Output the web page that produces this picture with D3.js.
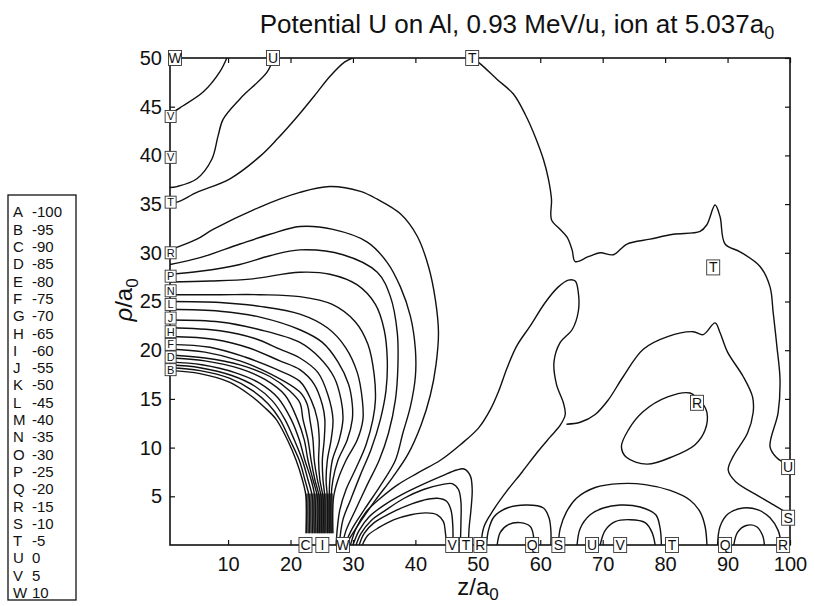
<!DOCTYPE html>
<html>
<head>
<meta charset="utf-8">
<script src="https://cdn.jsdelivr.net/npm/d3@7"></script>
<style>
  body { margin: 0; background: #fff; }
  text { font-family: "Liberation Sans", Arial, sans-serif; fill: #111; }
</style>
</head>
<body>
<div id="chart"></div>
<script>
// ---- data (z, rho) ----
const xTicks = [10, 20, 30, 40, 50, 60, 70, 80, 90, 100]
const yTicks = [5, 10, 15, 20, 25, 30, 35, 40, 45, 50]

const legendLetters = ["A","B","C","D","E","F","G","H","I","J","K","L","M","N","O","P","Q","R","S","T","U","V","W"]
const legendValues = [-100,-95,-90,-85,-80,-75,-70,-65,-60,-55,-50,-45,-40,-35,-30,-25,-20,-15,-10,-5,0,5,10]

// upper left
const C1 = [[9.8,50],[8.7,48.6],[6.0,46.5],[2.8,45.1],[1.0,44.4],[0.7,44.4]]
const C2 = [[17.2,50],[16.3,48.6],[11.9,45.8],[9.2,43.7],[8.4,42.0],[7.4,39.6],[5.0,37.6],[1.8,36.8],[0.7,36.7]]
const C3 = [[0.7,35.2],[1.8,35.2],[5.0,36.2],[10.3,37.6],[15.1,39.9],[17.9,41.7],[21.1,44.0],[24.3,46.5],[26.3,48.1],[28.7,49.6],[29.9,50]]

// fan of lines from the left edge down to the ion
const F0 = [[0.7,30.3],[5.0,31.4],[7.6,32.4],[15.1,34.7],[21.5,36.2],[26.3,36.8],[31.2,36.3],[33.9,35.5],[37.6,34.0],[40.3,31.7],[42.1,28.6],[43.2,25.2],[43.7,21.8],[43.3,18.5],[42.4,15.4],[40.9,12.3],[38.8,9.3],[36.3,6.9],[33.6,4.6],[31.2,2.4],[29.6,0.8],[28.9,0]]
const F1 = [[0.7,28.8],[5.5,29.5],[11.9,30.9],[16.7,31.9],[21.5,32.7],[26.8,32.4],[32.3,31.1],[35.5,29.0],[37.6,26.5],[39.2,23.5],[40.0,20.1],[40.0,17.3],[39.2,14.2],[38.0,11.5],[36.8,8.7],[34.5,6.2],[32.0,3.8],[29.9,1.7],[28.7,0]]
const F2 = [[0.7,27.8],[5.5,28.1],[11.9,28.8],[16.7,29.7],[21.5,30.3],[28.4,29.8],[33.9,28.0],[36.0,25.5],[37.1,21.8],[37.2,18.3],[36.8,14.9],[35.7,11.5],[34.2,8.7],[32.3,6.2],[30.4,3.6],[28.9,1.5],[28.3,0]]
const F3 = [[0.7,27.0],[7.1,27.1],[13.5,27.3],[21.5,28.0],[26.3,27.8],[30.7,26.7],[33.6,24.7],[35.0,22.1],[35.5,19.0],[35.3,15.9],[34.4,12.9],[32.9,9.8],[31.2,7.2],[29.6,4.6],[28.4,2.6],[27.8,0]]
const F4 = [[0.7,25.7],[8.7,25.7],[15.1,25.7],[21.5,25.5],[26.7,24.7],[30.4,22.9],[32.4,20.6],[33.4,17.5],[33.6,14.9],[33.2,12.9],[32.1,10.3],[30.5,7.9],[28.9,5.7],[27.9,3.6],[27.5,1.7],[27.3,0]]
const F5 = [[0.7,25.0],[8.7,24.9],[15.1,24.5],[21.5,23.7],[25.9,22.3],[28.8,20.3],[30.7,17.7],[31.5,14.9],[31.6,12.9],[30.7,10.8],[28.9,8.7],[27.6,6.7],[26.9,4.9],[26.8,1.2]]
const F6 = [[0.7,24.2],[8.7,24.0],[15.1,23.4],[21.5,22.1],[25.1,20.8],[27.6,18.8],[29.3,16.5],[29.9,14.4],[29.9,12.9],[29.1,10.8],[27.6,8.7],[26.8,6.7],[26.5,4.9],[26.5,1.2]]
const F7 = [[0.7,23.1],[8.7,22.9],[15.1,22.1],[21.5,20.8],[24.7,19.2],[27.0,17.2],[28.1,14.9],[28.4,12.9],[27.8,10.8],[26.7,8.7],[26.3,6.7],[26.2,4.9],[26.2,1.2]]
const F8 = [[0.7,22.3],[8.7,22.0],[14.3,21.2],[18.3,20.1],[21.5,19.2],[24.4,17.7],[26.0,15.4],[26.8,12.9],[26.5,10.8],[25.9,8.7],[25.7,6.7],[25.9,4.9],[25.9,1.2]]
const F9 = [[0.7,21.4],[7.9,21.1],[13.5,20.2],[18.3,18.9],[21.5,18.0],[23.8,16.5],[25.1,14.4],[25.5,12.9],[25.4,10.8],[25.1,8.7],[25.2,6.7],[25.5,4.9],[25.5,1.2]]
const F10 = [[0.7,20.6],[7.1,20.3],[12.7,19.3],[17.5,18.1],[21.5,16.8],[23.3,14.9],[24.3,12.9],[24.6,10.8],[24.5,8.7],[24.7,6.7],[25.2,4.9],[25.2,1.2]]
const F11 = [[0.7,20.1],[6.3,19.8],[11.9,18.9],[16.7,17.6],[21.5,15.7],[22.7,14.4],[23.1,12.9],[23.6,10.8],[23.8,8.7],[24.3,6.7],[24.9,4.9],[24.9,1.2]]
const F12 = [[0.7,19.5],[6.3,19.2],[11.9,18.5],[16.7,17.3],[19.9,15.8],[21.5,14.6],[22.0,12.9],[22.8,10.8],[23.3,8.7],[23.9,6.7],[24.6,4.9],[24.6,1.2]]
const F13 = [[0.7,19.2],[6.3,18.9],[11.9,18.1],[15.9,17.0],[19.1,15.4],[21.1,12.9],[22.2,10.8],[22.8,8.7],[23.6,6.7],[24.3,4.9],[24.3,1.2]]
const F14 = [[0.7,18.8],[5.8,18.5],[11.1,17.7],[15.1,16.6],[18.0,15.1],[20.1,12.9],[21.4,10.8],[22.3,8.7],[23.3,6.7],[23.9,4.9],[23.9,1.2]]
const F15 = [[0.7,18.5],[5.5,18.2],[10.6,17.4],[14.3,16.3],[17.1,14.8],[19.1,12.9],[20.6,10.8],[21.9,8.7],[22.8,6.7],[23.5,4.9],[23.5,1.2]]
const F16 = [[0.7,18.2],[5.5,17.9],[10.3,17.1],[13.8,15.9],[16.4,14.5],[18.3,12.9],[19.9,10.8],[21.4,8.7],[22.3,6.7],[23.0,4.9],[23.0,1.2]]
const F17 = [[0.7,17.9],[5.5,17.6],[10.3,16.7],[13.5,15.4],[15.9,14.1],[17.7,12.9],[19.5,10.8],[20.9,8.7],[21.9,6.7],[22.5,4.9],[22.5,1.2]]

// dense block of lines near the ion
const coreBlock = [[22.4,1.2],[26.8,1.2],[26.8,5.3],[22.4,5.3]]

// tongue and domes along the axis
const TG = [[29.6,0],[30.5,1.7],[32.1,3.4],[34.4,4.8],[37.2,6.2],[40.4,7.4],[44.0,8.7],[47.2,10.3],[50.1,12.0],[52.0,13.9],[53.4,15.9],[54.7,18.2],[56.2,20.4],[58.4,22.5],[60.8,24.9],[62.9,26.5],[64.5,27.2],[65.6,27.1],[66.1,25.9],[66.1,24.0],[65.1,22.1],[63.2,20.8],[62.2,18.8],[62.6,16.5],[63.7,14.6],[64.0,13.4],[63.2,12.3],[61.6,11.1],[59.5,9.5],[57.1,7.5],[54.6,5.5],[52.5,3.6],[51.0,1.9],[50.5,0]]
const Dm1 = [[30.0,0],[31.0,1.5],[32.6,2.9],[35.0,4.1],[37.9,5.2],[41.1,6.2],[44.3,7.1],[46.6,7.7],[47.8,7.8],[48.8,7.1],[49.1,5.7],[48.9,3.6],[48.6,1.7],[48.5,0]]
const Dm2 = [[30.5,0],[31.3,1.2],[32.9,2.5],[35.3,3.6],[38.2,4.8],[41.3,5.7],[44.2,6.2],[45.9,6.3],[46.9,5.7],[47.3,4.4],[47.3,2.4],[47.2,0]]
const Dm3 = [[31.0,0],[31.8,1.2],[33.4,2.3],[35.8,3.2],[38.5,4.0],[41.3,4.6],[43.5,4.8],[45.0,4.5],[45.7,3.6],[46.0,1.9],[46.0,0]]
const Dm4 = [[31.5,0],[32.4,1.0],[34.2,1.8],[36.6,2.6],[39.3,3.1],[41.7,3.3],[43.5,3.1],[44.5,2.4],[44.8,1.3],[45.0,0]]
const DQ = [[53.1,0],[53.6,1.3],[54.9,2.1],[56.8,2.3],[58.4,1.9],[58.9,1.0],[59.0,0]]
const DB = [[51.4,0],[51.7,1.5],[52.6,2.9],[54.7,3.8],[57.9,4.1],[60.5,3.8],[61.4,2.8],[61.7,1.5],[61.7,0]]
const DE = [[62.9,0],[63.2,1.7],[64.2,3.4],[65.8,4.8],[68.8,5.9],[72.8,6.3],[76.8,6.2],[80.8,5.6],[84.0,4.6],[85.6,3.4],[86.4,1.9],[86.7,0]]
const DC = [[65.9,0],[66.4,1.7],[68.0,3.1],[70.1,3.8],[72.8,4.1],[76.0,3.9],[78.5,3.1],[79.2,1.7],[79.4,0]]
const DD = [[69.6,0],[70.4,1.5],[72.0,2.4],[74.4,2.6],[76.8,2.3],[77.9,1.3],[78.4,0]]
const DQR = [[88.4,0],[88.8,1.9],[90.1,3.2],[92.5,3.8],[94.9,3.6],[96.8,2.8],[98.1,1.5],[98.6,0]]
const DQi = [[91.0,0],[91.6,1.3],[93.0,2.0],[94.6,1.9],[95.6,1.0],[95.9,0]]

// right hand side
const Rbig = [[100,3.1],[97.7,4.0],[94.5,5.2],[91.3,6.5],[90.1,7.7],[90.9,9.1],[93.2,11.5],[94.1,13.6],[94.0,15.2],[92.5,17.3],[90.0,19.8],[88.8,21.8],[88.0,22.8],[86.1,21.6],[84.5,21.9],[80.4,21.4],[76.5,20.1],[73.3,17.3],[70.9,14.9],[68.8,13.4],[66.4,12.6],[64.2,12.4]]
const Rell = [[85.1,15.1],[84.0,15.6],[80.4,15.2],[76.5,13.7],[74.1,11.8],[73.0,10.1],[73.8,9.0],[77.1,8.3],[81.3,9.1],[84.8,10.3],[86.4,11.8],[86.7,13.6],[85.8,14.7]]
const Tbig = [[49.1,50],[50.4,49.4],[53.1,47.8],[55.7,46.3],[57.6,44.2],[59.2,41.9],[60.5,39.6],[61.3,37.6],[61.8,35.5],[61.8,33.4],[63.2,32.4],[64.3,31.6],[65.1,30.3],[65.6,29.1],[67.7,29.6],[69.6,30.0],[71.7,29.8],[73.9,30.9],[77.6,31.4],[81.3,31.9],[85.6,32.2],[86.7,32.9],[88.0,34.9],[88.8,33.7],[89.6,30.9],[92.0,30.1],[95.2,28.6],[96.8,26.5],[97.3,23.9],[97.9,20.4],[98.4,17.0],[98.1,13.6],[96.8,10.1],[97.8,9.0],[100,8.1]]

const openLines = [C1, C2, C3, F0, F1, F2, F3, F4, F5, F6, F7, F8, F9, F10, F11, F12, F13, F14, F15, F16, F17,
  TG, Dm1, Dm2, Dm3, Dm4, DQ, DB, DE, DC, DD, DQR, DQi, Rbig, Tbig]
const closedLines = [Rell]

// contour labels [letter, z, rho]
const topLabels = [["W",1.5,50],["U",17.2,50],["T",49.1,50]]
const leftLabels = [["V",0.8,44.0],["V",0.8,39.8],["T",0.8,35.2],["R",0.8,30.0],["P",0.8,27.6],["N",0.8,26.1],["L",0.8,24.7],["J",0.8,23.3],["H",0.8,21.9],["F",0.8,20.6],["D",0.8,19.3],["B",0.8,18.0]]
const bottomLabels = [["C",22.4,0],["I",25.1,0],["W",28.4,0],["V",45.9,0],["T",48.1,0],["R",50.4,0],["Q",58.7,0],["S",62.9,0],["U",68.3,0],["V",72.8,0],["T",81.1,0],["Q",89.6,0],["R",98.9,0]]
const rightLabels = [["S",99.7,2.8],["U",99.7,8.0]]
const innerLabels = [["T",87.7,28.5],["R",85.1,14.6]]

// ---- layout ----
const WIDTH = 815, HEIGHT = 606
const PLOT = {LEFT: 170, RIGHT: 790, TOP: 58, BOTTOM: 545}

const svg = d3.select("#chart").append("svg")
  .attr("width", WIDTH)
  .attr("height", HEIGHT)

const x = d3.scaleLinear().domain([0.7, 100]).range([PLOT.LEFT, PLOT.RIGHT])
const y = d3.scaleLinear().domain([0, 50]).range([PLOT.BOTTOM, PLOT.TOP])

// title
const title = svg.append("text")
  .attr("x", 517).attr("y", 33)
  .attr("text-anchor", "middle")
  .style("font-size", "26px")
title.append("tspan").text("Potential U on Al, 0.93 MeV/u, ion at 5.037a")
title.append("tspan").attr("dy", 6).style("font-size", "18px").text("0")

// clip
svg.append("clipPath").attr("id", "plotclip")
  .append("rect")
  .attr("x", PLOT.LEFT).attr("y", PLOT.TOP)
  .attr("width", PLOT.RIGHT - PLOT.LEFT).attr("height", PLOT.BOTTOM - PLOT.TOP)

const plot = svg.append("g").attr("clip-path", "url(#plotclip)")

// dark core of packed lines
plot.append("path")
  .datum(coreBlock)
  .attr("d", d3.line().x(d => x(d[0])).y(d => y(d[1])).curve(d3.curveLinearClosed))
  .attr("fill", "#2a2a2a")
  .attr("opacity", 0.8)

const line = d3.line()
  .x(d => x(d[0]))
  .y(d => y(d[1]))
  .curve(d3.curveCatmullRom.alpha(0.5))

plot.selectAll("path.contour")
  .data(openLines)
  .enter().append("path")
  .attr("class", "contour")
  .attr("d", line)
  .attr("fill", "none")
  .attr("stroke", "#111")
  .attr("stroke-width", 1.4)

plot.selectAll("path.closed")
  .data(closedLines)
  .enter().append("path")
  .attr("class", "closed")
  .attr("d", line.curve(d3.curveCatmullRomClosed.alpha(0.5)))
  .attr("fill", "none")
  .attr("stroke", "#111")
  .attr("stroke-width", 1.4)

// axes, ticks inward
svg.append("g")
  .attr("transform", `translate(0, ${PLOT.BOTTOM})`)
  .call(d3.axisBottom(x).tickValues(xTicks).tickSize(-5).tickPadding(12))
svg.append("g")
  .attr("transform", `translate(0, ${PLOT.TOP})`)
  .call(d3.axisTop(x).tickValues(xTicks).tickSize(-5).tickFormat(""))
svg.append("g")
  .attr("transform", `translate(${PLOT.LEFT}, 0)`)
  .call(d3.axisLeft(y).tickValues(yTicks).tickSize(-5).tickPadding(8))
svg.append("g")
  .attr("transform", `translate(${PLOT.RIGHT}, 0)`)
  .call(d3.axisRight(y).tickValues(yTicks).tickSize(-5).tickFormat(""))

svg.selectAll(".domain").remove()
svg.selectAll(".tick line").attr("stroke", "#111").attr("stroke-width", 1.2)
svg.selectAll(".tick text")
  .style("font-size", "20px")
  .style("font-family", "'Liberation Sans', Arial, sans-serif")
  .attr("fill", "#111")

svg.append("rect")
  .attr("x", PLOT.LEFT).attr("y", PLOT.TOP)
  .attr("width", PLOT.RIGHT - PLOT.LEFT).attr("height", PLOT.BOTTOM - PLOT.TOP)
  .attr("fill", "none")
  .attr("stroke", "#111")
  .attr("stroke-width", 1.6)

// contour labels
function drawLabels(data, size, w, h) {
  const g = svg.append("g").selectAll("g")
    .data(data)
    .enter().append("g")
    .attr("transform", d => `translate(${x(d[1])}, ${y(d[2])})`)
  g.append("rect")
    .attr("x", -w / 2).attr("y", -h / 2)
    .attr("width", w).attr("height", h)
    .attr("fill", "#fff")
    .attr("stroke", "#333")
    .attr("stroke-width", 0.9)
  g.append("text")
    .attr("text-anchor", "middle")
    .attr("dy", "0.36em")
    .style("font-size", size + "px")
    .text(d => d[0])
}
drawLabels(topLabels.concat(bottomLabels, rightLabels, innerLabels), 14, 13, 15)
drawLabels(leftLabels, 11, 11, 12)

// axis titles
const xt = svg.append("text")
  .attr("x", 478).attr("y", 595)
  .attr("text-anchor", "middle")
  .style("font-size", "24px")
xt.append("tspan").text("z/a")
xt.append("tspan").attr("dy", 5).style("font-size", "17px").text("0")

const yt = svg.append("text")
  .attr("transform", "translate(132, 300) rotate(-90)")
  .attr("text-anchor", "middle")
  .style("font-size", "24px")
yt.append("tspan").style("font-style", "italic").text("ρ")
yt.append("tspan").text("/a")
yt.append("tspan").attr("dy", 6).style("font-size", "17px").text("0")

// legend box
const LEG = {X: 8, Y: 195, W: 68, H: 405, STEP: 17.3, FIRST: 212}
svg.append("rect")
  .attr("x", LEG.X).attr("y", LEG.Y)
  .attr("width", LEG.W).attr("height", LEG.H)
  .attr("fill", "#fff")
  .attr("stroke", "#111")
  .attr("stroke-width", 1.3)

const leg = svg.selectAll("g.leg")
  .data(legendLetters)
  .enter().append("g")
  .attr("class", "leg")
  .attr("transform", (d, i) => `translate(0, ${LEG.FIRST + i * LEG.STEP})`)
leg.append("text")
  .attr("x", 13).attr("dy", "0.36em")
  .style("font-size", "15px")
  .text(d => d)
leg.append("text")
  .attr("x", 32).attr("dy", "0.36em")
  .style("font-size", "15px")
  .text((d, i) => legendValues[i])
</script>
</body>
</html>
